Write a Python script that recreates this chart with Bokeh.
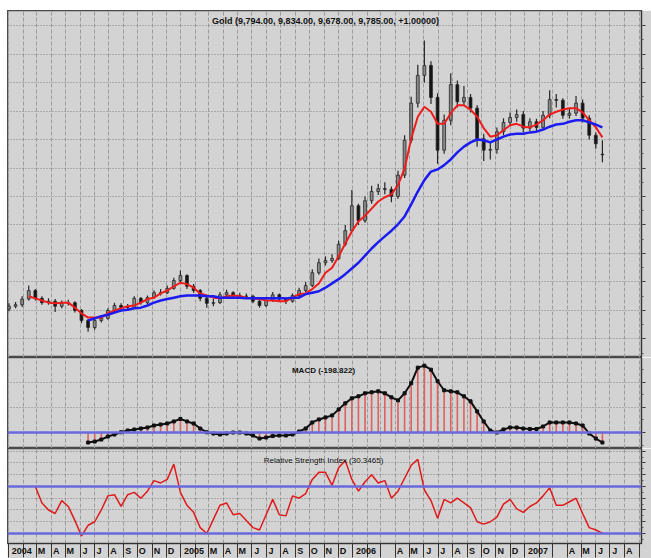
import numpy as np
import pandas as pd
from bokeh.plotting import figure
from bokeh.layouts import column, row
from bokeh.models import (Range1d, FixedTicker, Span, Label, ColumnDataSource,
                          CustomJSTickFormatter, Spacer)
from bokeh.embed import file_html
from bokeh.resources import INLINE

# ---------------- data (bi-weekly bars) ----------------
bar_start = "2004-01-02"
opens = [7620, 7660, 7680, 7760, 7880, 7770, 7710, 7730, 7660, 7700,
         7710, 7600, 7460, 7360, 7460, 7490, 7600, 7670, 7640, 7640,
         7770, 7710, 7780, 7850, 7850, 7910, 8020, 8090, 7940, 7880,
         7770, 7700, 7710, 7820, 7850, 7810, 7800, 7800, 7730, 7670,
         7740, 7820, 7760, 7730, 7810, 7880, 7950, 8130, 8270, 8300,
         8330, 8530, 8720, 9070, 8860, 9140, 9270, 9310, 9300, 9200,
         9500, 9990, 10510, 10900, 11040, 10590, 9850, 10270, 10770, 10530,
         10590, 10440, 10010, 9850, 9860, 10110, 10240, 10310, 10350, 10160,
         10250, 10170, 10340, 10560, 10550, 10340, 10370, 10510, 10300, 10060,
         9794]
highs = [7700, 7720, 7800, 7950, 7900, 7800, 7770, 7760, 7740, 7750,
         7730, 7620, 7480, 7490, 7530, 7630, 7710, 7700, 7690, 7800,
         7790, 7810, 7880, 7900, 7950, 8060, 8160, 8110, 7970, 7900,
         7790, 7760, 7860, 7890, 7870, 7850, 7840, 7820, 7750, 7780,
         7860, 7840, 7780, 7840, 7920, 8000, 8180, 8330, 8360, 8390,
         8580, 8800, 9290, 9100, 9200, 9350, 9380, 9400, 9340, 9560,
         10060, 10600, 11050, 11390, 11100, 10650, 10350, 10930, 10830, 10750,
         10640, 10480, 10080, 9960, 10170, 10300, 10380, 10420, 10400, 10300,
         10290, 10400, 10690, 10640, 10580, 10430, 10610, 10560, 10340, 10100,
         9990]
lows = [7590, 7630, 7650, 7740, 7740, 7680, 7680, 7580, 7630, 7670,
        7570, 7420, 7300, 7330, 7430, 7470, 7580, 7610, 7600, 7620,
        7680, 7690, 7760, 7810, 7830, 7890, 8000, 7900, 7850, 7730,
        7640, 7660, 7690, 7790, 7780, 7770, 7760, 7700, 7640, 7650,
        7720, 7730, 7690, 7710, 7790, 7860, 7930, 8100, 8230, 8270,
        8310, 8500, 8700, 8800, 8830, 9100, 9220, 9230, 9120, 9170,
        9460, 9950, 10450, 10800, 10500, 9660, 9800, 10200, 10450, 10480,
        10380, 9900, 9700, 9720, 9800, 10060, 10190, 10250, 10100, 10120,
        10120, 10140, 10300, 10450, 10290, 10290, 10330, 10240, 10000, 9870,
        9680]
closes = [7660, 7680, 7760, 7880, 7770, 7710, 7730, 7660, 7700, 7710,
          7600, 7460, 7360, 7460, 7490, 7600, 7670, 7640, 7640, 7770,
          7710, 7780, 7850, 7850, 7910, 8020, 8090, 7940, 7880, 7770,
          7700, 7710, 7820, 7850, 7810, 7800, 7800, 7730, 7670, 7740,
          7820, 7760, 7730, 7810, 7880, 7950, 8130, 8270, 8300, 8330,
          8530, 8720, 9070, 8860, 9140, 9270, 9310, 9300, 9200, 9500,
          9990, 10510, 10900, 11040, 10590, 9850, 10270, 10770, 10530, 10590,
          10440, 10010, 9850, 9860, 10110, 10240, 10310, 10350, 10160, 10250,
          10170, 10340, 10560, 10550, 10340, 10370, 10510, 10300, 10060, 9940,
          9785]

red_ma_start = "2004-02-13"
red_ma = [7800, 7770, 7740, 7710, 7700, 7710, 7710,
          7640, 7560, 7500, 7500, 7500, 7560, 7600, 7630, 7660, 7670,
          7710, 7760, 7780, 7840, 7880, 7940, 7990, 7970, 7920, 7840,
          7810, 7780, 7770, 7800, 7810, 7800, 7780, 7770, 7760, 7740,
          7740, 7730, 7730, 7780, 7830, 7840, 7900, 7980, 8130, 8200,
          8360, 8540, 8710, 8850, 8930, 9030, 9130, 9190, 9230, 9360,
          9590, 10010, 10320, 10460, 10390, 10220, 10220, 10370, 10480, 10480,
          10420, 10320, 10160, 10040, 10060, 10130, 10200, 10220, 10180, 10170,
          10210, 10270, 10350, 10390, 10420, 10440, 10440, 10380, 10270, 10170,
          10030]

blue_ma_start = "2004-06-18"
blue_ma = [7460, 7490, 7520, 7540, 7570, 7600, 7610, 7630,
           7640, 7670, 7710, 7740, 7760, 7780, 7800, 7810, 7810, 7810,
           7800, 7800, 7780, 7780, 7780, 7780, 7770, 7770, 7770, 7770,
           7770, 7770, 7770, 7780, 7780, 7830, 7850, 7870, 7920, 7980,
           8040, 8110, 8190, 8270, 8370, 8470, 8560, 8640, 8720, 8810,
           8920, 9090, 9270, 9430, 9550, 9580, 9640, 9720, 9820, 9900,
           9960, 10000, 9990, 9960, 10000, 10040, 10070, 10080, 10080, 10100,
           10110, 10140, 10180, 10210, 10220, 10250, 10270, 10270, 10240, 10210,
           10170]

macd_start = "2004-06-18"
macd = [-199, -180, -140, -80, -40, 5, 40, 60,
        80, 100, 140, 160, 180, 220, 270, 220, 180, 80,
        5, -20, -40, -20, 0, 0, -20, -60, -120, -100,
        -70, -60, -60, -40, 20, 80, 200, 260, 300, 340,
        460, 580, 680, 720, 780, 800, 820, 780, 700, 640,
        780, 980, 1290, 1330, 1250, 1020, 840, 820, 800, 720,
        620, 420, 220, 40, 0, 60, 100, 100, 80, 70,
        70, 120, 200, 200, 200, 200, 180, 140, -20, -120,
        -199]

rsi_start = "2004-02-27"
rsi = [70, 56, 50, 47, 58, 53,
       41, 28, 37, 40, 50, 62, 63, 53, 63, 65,
       60, 66, 75, 73, 76, 89, 65, 54, 48, 35,
       30, 42, 54, 56, 46, 47, 41, 35, 33, 46,
       59, 46, 45, 62, 60, 64, 76, 82, 82, 71,
       86, 92, 76, 66, 74, 80, 73, 75, 60, 66,
       77, 88, 93, 67, 58, 43, 59, 56, 60, 56,
       52, 40, 38, 40, 44, 55, 59, 51, 48, 53,
       56, 62, 69, 54, 54, 57, 60, 47, 35, 33,
       30.35]

month_labels = ["2004", "", "M", "A", "M", "J", "J", "A", "S", "O", "N", "D",
                "2005", "", "M", "A", "M", "J", "J", "A", "S", "O", "N", "D",
                "2006", "", "", "A", "M", "J", "J", "A", "S", "O", "N", "D",
                "2007", "", "", "A", "M", "J", "J", "A", ""]

title_text = "Gold (9,794.00, 9,834.00, 9,678.00, 9,785.00, +1.00000)"
macd_text = "MACD (-198.822)"
rsi_text = "Relative Strength Index (30.3465)"

# ---------------- layout helpers ----------------
BG = "#d3d3d3"
VGRID = "#9c9c9c"
HGRID = "#7e7e7e"
FONT = "Liberation Sans"
FIG_W = 644          # frame 634 px + 10 px right border
LEFT_PAD = 7
TOP_PAD = 10


def ms(t):
    return pd.Timestamp(t).value / 1e6


ms_per_px = (ms("2007-09-06") - ms("2004-01-01")) / 633
x_start = ms("2004-01-01") - ms_per_px
x_end = ms("2007-09-06")
xr = Range1d(start=x_start, end=x_end)


def page_x(px):
    return x_start + (px - LEFT_PAD) * ms_per_px


month_starts = pd.date_range("2004-01-01", periods=len(month_labels), freq="MS")
month_ms = [int(ms(m)) for m in month_starts]
label_ticks, overrides = [], {}
for lab, m in zip(month_labels, month_ms):
    if lab:
        t = int(m + (2 + 2.8 * len(lab)) * ms_per_px)
        label_ticks.append(t)
        overrides[t] = lab


def dates_from(start, n):
    return pd.date_range(start, periods=n, freq="14D")


def make_fig(h, y0, y1, yticks, yminor, bottom=False):
    p = figure(width=FIG_W, height=h, x_range=xr, y_range=Range1d(y0, y1),
               output_backend="svg", toolbar_location=None,
               x_axis_location="below" if bottom else None,
               y_axis_location="right",
               min_border_left=0, min_border_right=10,
               min_border_top=0, min_border_bottom=15 if bottom else 0,
               background_fill_color=BG, border_fill_color=BG,
               outline_line_color="#4a4a4a", outline_line_width=1.5)
    p.xgrid.ticker = FixedTicker(ticks=month_ms)
    p.xgrid.grid_line_color = VGRID
    p.xgrid.grid_line_dash = "4 2"
    p.xgrid.grid_line_width = 1
    p.ygrid.ticker = FixedTicker(ticks=yticks)
    p.ygrid.grid_line_color = HGRID
    p.ygrid.grid_line_dash = "1 2"
    ya = p.yaxis[0]
    ya.ticker = FixedTicker(ticks=yticks, minor_ticks=yminor)
    ya.formatter = CustomJSTickFormatter(code="return ''")
    ya.major_tick_out = 4
    ya.major_tick_in = 0
    ya.minor_tick_out = 2
    ya.minor_tick_in = 0
    ya.major_label_standoff = 0
    ya.axis_line_color = "#333333"
    ya.major_tick_line_color = "#333333"
    ya.minor_tick_line_color = "#555555"
    return p


# ---------------- main price panel ----------------
p1 = make_fig(347, 6940, 11811,
              list(range(7200, 11800, 400)), list(range(7000, 11800, 200)))
bars = dates_from(bar_start, len(closes))
up = [c >= o for o, c in zip(opens, closes)]
src = ColumnDataSource(dict(
    date=bars, h=highs, l=lows,
    top=[max(o, c) for o, c in zip(opens, closes)],
    bottom=[min(o, c) for o, c in zip(opens, closes)],
    fill=["#8a8a8a" if u else "#141414" for u in up]))
p1.segment(x0="date", y0="h", x1="date", y1="l", source=src,
           line_color="#262626", line_width=1.2)
p1.vbar(x="date", width=6 * 86400000, top="top", bottom="bottom", source=src,
        fill_color="fill", line_color="#262626", line_width=0.8)
p1.line(dates_from(red_ma_start, len(red_ma)), red_ma,
        line_color="#f01c1c", line_width=2)
p1.line(dates_from(blue_ma_start, len(blue_ma)), blue_ma,
        line_color="#1c1cf0", line_width=2.5)
p1.add_layout(Label(x=page_x(325), y=11670, text=title_text,
                    text_align="center", text_baseline="middle",
                    text_font=FONT, text_font_size="9px", text_font_style="bold",
                    text_color="#111111"))

# ---------------- MACD panel ----------------
p2 = make_fig(91, -318, 1492, [0, 500, 1000], list(range(-250, 1500, 250)))
p2.add_layout(Span(location=0, dimension="width", line_color="#6a6ae0",
                   line_width=2.5))
md = dates_from(macd_start, len(macd))
p2.segment(x0=md, y0=[0] * len(macd), x1=md, y1=macd,
           line_color="#e06060", line_width=1.6)
p2.line(md, macd, line_color="#111111", line_width=2)
p2.scatter(md, macd, marker="square", size=3, fill_color="#111111",
           line_color="#111111")
p2.add_layout(Label(x=page_x(323), y=1234, text=macd_text,
                    text_align="center", text_baseline="middle",
                    text_font=FONT, text_font_size="8px", text_font_style="bold",
                    text_color="#111111"))

# ---------------- RSI panel ----------------
p3 = make_fig(110, 21.5, 102.3, [30, 40, 50, 60, 70, 80, 90, 100],
              list(range(25, 101, 5)), bottom=True)
for lvl in (30, 70):
    p3.add_layout(Span(location=lvl, dimension="width", line_color="#6a6ae0",
                       line_width=2.5))
p3.line(dates_from(rsi_start, len(rsi)), rsi, line_color="#e01a1a",
        line_width=1.5)
p3.add_layout(Label(x=page_x(323), y=92.1, text=rsi_text,
                    text_align="center", text_baseline="middle",
                    text_font=FONT, text_font_size="8px",
                    text_color="#111111"))
xa = p3.xaxis[0]
xa.ticker = FixedTicker(ticks=label_ticks, minor_ticks=month_ms)
xa.major_label_overrides = overrides
xa.major_tick_out = 0
xa.major_tick_in = 0
xa.major_tick_line_color = None
xa.minor_tick_out = 14
xa.minor_tick_in = 0
xa.minor_tick_line_color = "#333333"
xa.axis_line_color = "#333333"
xa.major_label_standoff = -12
xa.major_label_text_font = FONT
xa.major_label_text_font_size = "9px"
xa.major_label_text_font_style = "bold"
xa.major_label_text_color = "#111111"

layout = row(Spacer(width=LEFT_PAD, height=TOP_PAD + 548),
             column(Spacer(width=FIG_W, height=TOP_PAD), p1, p2, p3, spacing=0),
             spacing=0)
open("out.html", "w").write(file_html(layout, INLINE))
